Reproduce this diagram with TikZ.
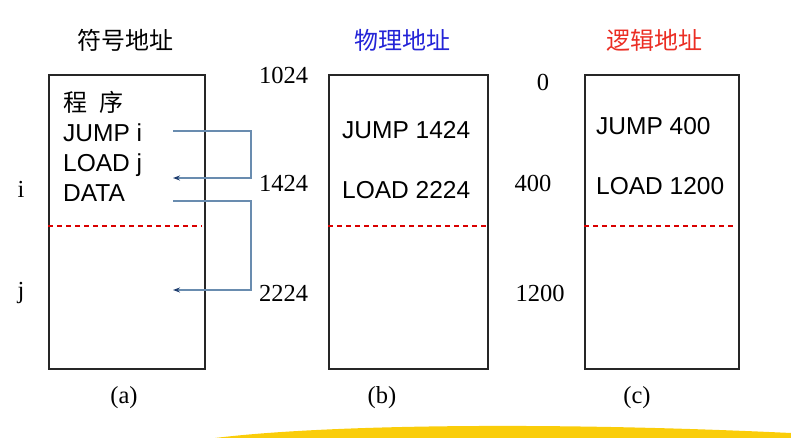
\documentclass[tikz,border=0pt]{standalone}
\usepackage{fontspec}
\setmainfont{Liberation Serif}
\newfontfamily\arialfont{Liberation Sans}
\newfontfamily\cjk{Noto Sans CJK SC}
\usetikzlibrary{positioning, calc, arrows.meta}
\definecolor{linkblue}{RGB}{105,140,175}
\definecolor{tipblue}{RGB}{30,60,110}
\definecolor{titleblue}{RGB}{35,35,215}
\definecolor{titlered}{RGB}{235,45,35}
\definecolor{swoosh}{RGB}{250,205,10}
\tikzset{membox/.style={draw, line width=1.8pt, draw=black!85, minimum height=294pt, inner sep=0pt}}
\tikzset{title/.style={font=\cjk\fontsize{24}{28}\selectfont}}
\tikzset{instr/.style={anchor=base west, inner sep=0pt, font=\arialfont\fontsize{24.5}{29}\selectfont}}
\tikzset{addr/.style={anchor=base, inner sep=0pt, font=\fontsize{24.5}{29}\selectfont}}
\tikzset{split/.style={draw=red!85!black, dash pattern=on 5pt off 4pt, line width=1.2pt}}
\tikzset{link/.style={draw=linkblue, line width=1.2pt, -{Stealth[length=7pt, width=5pt, color=tipblue]}}}

\begin{document}
\begin{tikzpicture}[x=1pt, y=-1pt]
      \useasboundingbox (0,0) rectangle (791,438);
      \fill[swoosh] (215,438) .. controls (330,424) and (560,422) .. (791,433) -- (791,438) -- cycle;

      % (a) symbolic
      \node[title] (symT) at (125,40) {符号地址};
      \node[membox, minimum width=156pt] (boxA) at (127,222) {};
      \draw[split] ($(boxA.west)+(0,4)$) -- ($(boxA.east)+(-4,4)$);
      \node[instr, font=\cjk\fontsize{24}{28}\selectfont] (progA) at (63,112) {程\enspace 序};
      \node[instr] (jumpA) at (63,141.5) {JUMP i};
      \node[instr] (loadA) at (63,171.5) {LOAD j};
      \node[instr] (dataA) at (63,201) {DATA};
      \node[addr] (symI) at (21,197) {i};
      \node[addr] (symJ) at (21,298) {j};
      \node[addr] (capA) at (124,403) {(a)};

      \coordinate (jumpOut) at (173,131);
      \coordinate (jumpTo) at (173,178);
      \coordinate (dataOut) at (173,201);
      \coordinate (dataTo) at (173,290);
      \draw[link] (jumpOut) -- ++(78,0) |- (jumpTo);
      \draw[link] (dataOut) -- ++(78,0) |- (dataTo);

      % (b) physical
      \node[title, text=titleblue] (phyT) at (402,40) {物理地址};
      \node[membox, minimum width=159pt] (boxB) at (408.5,222) {};
      \draw[split] ($(boxB.west)+(0,4)$) -- ($(boxB.east)+(0,4)$);
      \node[instr] (jumpB) at (342,138.5) {JUMP 1424};
      \node[instr] (loadB) at (342,198.5) {LOAD 2224};
      \node[addr] (b1024) at (283.5,83.3) {1024};
      \node[addr] (b1424) at (283.5,191.7) {1424};
      \node[addr] (b2224) at (283.5,301.5) {2224};
      \node[addr] (capB) at (382,403) {(b)};

      % (c) logical
      \node[title, text=titlered] (logT) at (654,40) {逻辑地址};
      \node[membox, minimum width=154pt] (boxC) at (662,222) {};
      \draw[split] ($(boxC.west)+(0,4)$) -- ($(boxC.east)+(-3,4)$);
      \node[instr] (jumpC) at (596,135) {JUMP 400};
      \node[instr] (loadC) at (596,195) {LOAD 1200};
      \node[addr] (c0) at (543,90.7) {0};
      \node[addr] (c400) at (533,191.7) {400};
      \node[addr] (c1200) at (540,301.5) {1200};
      \node[addr] (capC) at (637,403) {(c)};
\end{tikzpicture}
\end{document}
